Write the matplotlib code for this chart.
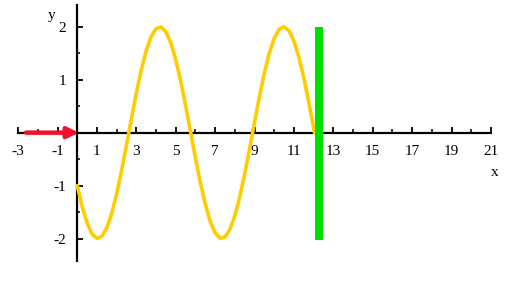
import matplotlib
matplotlib.use("Agg")
import matplotlib.pyplot as plt

# curve samples
curve_x = [0.0, 0.25, 0.5, 0.75, 1.0, 1.25, 1.5, 1.75, 2.0, 2.25, 2.5, 2.75,
           3.0, 3.25, 3.5, 3.75, 4.0, 4.25, 4.5, 4.75, 5.0, 5.25, 5.5, 5.75,
           6.0, 6.25, 6.5, 6.75, 7.0, 7.25, 7.5, 7.75, 8.0, 8.25, 8.5, 8.75,
           9.0, 9.25, 9.5, 9.75, 10.0, 10.25, 10.5, 10.75, 11.0, 11.25, 11.5,
           11.75, 12.0, 12.04]
curve_y = [-1.0, -1.398, -1.707, -1.912, -1.998, -1.959, -1.798, -1.526, -1.158,
           -0.719, -0.235, 0.263, 0.746, 1.181, 1.544, 1.811, 1.964, 1.996, 1.904,
           1.693, 1.377, 0.977, 0.513, 0.019, -0.476, -0.942, -1.349, -1.673,
           -1.892, -1.994, -1.971, -1.826, -1.568, -1.213, -0.781, -0.301, 0.197,
           0.684, 1.127, 1.501, 1.782, 1.951, 1.999, 1.923, 1.728, 1.425, 1.034,
           0.577, 0.086, 0.0]

bar_x = [12.27, 12.27]
bar_y = [-2.02, 2.0]

arrow_start = (-2.6, 0.0)
arrow_end = (0.07, 0.0)

x_major = [-3, -1, 1, 3, 5, 7, 9, 11, 13, 15, 17, 19, 21]
x_minor = [-2, 0, 2, 4, 6, 8, 10, 12, 14, 16, 18, 20]
y_major = [-2, -1, 1, 2]
y_minor = [-1.5, -0.5, 0.5, 1.5]

plt.rcParams['font.family'] = ['Liberation Serif', 'DejaVu Serif']

fig = plt.figure(figsize=(5.15, 2.82), dpi=100)
ax = fig.add_axes([0, 0, 1, 1])
ax.set_xlim(-3.92, 22.22)
ax.set_ylim(-2.82, 2.504)

ax.plot(curve_x, curve_y, color='#FFCC00', lw=2.6, solid_capstyle='round', zorder=3)
ax.plot(bar_x, bar_y, color='#00DD00', lw=5.8, solid_capstyle='butt', zorder=4)
ax.annotate('', xy=arrow_end, xytext=arrow_start,
            arrowprops=dict(arrowstyle='-|>', color='#F0102A', lw=3.2,
                            mutation_scale=16, shrinkA=0, shrinkB=0),
            zorder=5)

for s in ['top', 'right']:
    ax.spines[s].set_visible(False)
ax.spines['left'].set_position(('data', 0))
ax.spines['bottom'].set_position(('data', 0))
ax.spines['left'].set_bounds(-2.43, 2.41)
ax.spines['bottom'].set_bounds(-3, 21)
for s in ['left', 'bottom']:
    ax.spines[s].set_linewidth(1.6)
    ax.spines[s].set_color('black')

ax.set_xticks(x_major)
ax.set_xticks(x_minor, minor=True)
ax.set_yticks(y_major)
ax.set_yticks(y_minor, minor=True)
ax.set_xticklabels([str(v) for v in x_major])
ax.set_yticklabels([str(v) for v in y_major])
ax.tick_params(axis='x', which='major', direction='in', length=4, width=1.3, pad=9, labelsize=11)
ax.tick_params(axis='x', which='minor', direction='in', length=3, width=1.1)
ax.tick_params(axis='y', which='major', direction='in', length=4, width=1.3, pad=8, labelsize=11)
ax.tick_params(axis='y', which='minor', direction='in', length=2.5, width=1.1)

ax.text(52, 282 - 15, 'y', transform=None, fontsize=11, ha='center', va='center')
ax.text(495, 282 - 173, 'x', transform=None, fontsize=11, ha='center', va='center')

fig.savefig('out.png', dpi=100)
